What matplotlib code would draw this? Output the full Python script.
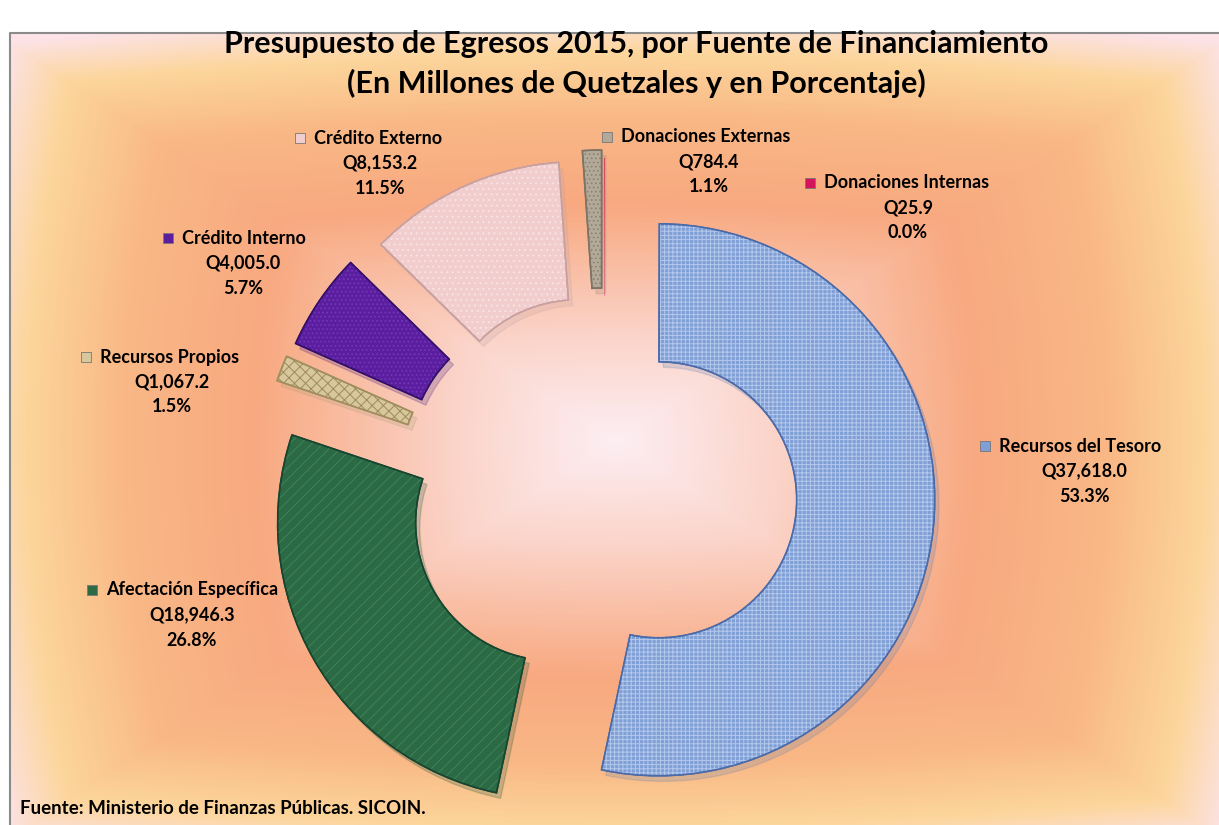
# coding: utf-8
import numpy as np
import matplotlib
matplotlib.use('Agg')
import matplotlib.pyplot as plt
from matplotlib.colors import LinearSegmentedColormap
from matplotlib.patches import Rectangle, Wedge, Shadow

plt.rcParams['font.family'] = ['Lato', 'DejaVu Sans']
plt.rcParams['hatch.linewidth'] = 0.7

# datos (millones de quetzales), en el orden de las agujas del reloj desde arriba
fuentes = ['Donaciones Internas', 'Recursos del Tesoro', 'Afectación Específica',
           'Recursos Propios', 'Crédito Interno', 'Crédito Externo', 'Donaciones Externas']
montos = [25.9, 37618.0, 18946.3, 1067.2, 4005.0, 8153.2, 784.4]
colores = ['#d4145a', '#7f9fd6', '#2c6a45', '#d8c79b', '#5a1e9e', '#f1cdcd', '#b3a999']
bordes = ['#d4145a', '#4a6aa8', '#174530', '#a08e5e', '#33106a', '#c9a0a0', '#7d7365']
# textura aproximada de cada porcion
texturas = ['', '++++', '///', 'xxx', '....', '...', '....']
color_textura = ['#d4145a', '#b4c8ec', '#3d8459', '#9c8b5e', '#7437bd', '#f9e4e4', '#8c8272']

# separacion de cada porcion (px)
separacion = [60, 55, 58, 70, 68, 62, 68]

# posicion de las etiquetas: x del cuadrito, y de la primera linea, x centro de los valores
etiquetas_pos = [(810, 183, 908), (985, 446, 1084), (92, 590, 192), (86, 357, 172),
                 (168, 238, 243), (300, 138, 380), (607, 137, 709)]

W, H = 1219, 825
fig = plt.figure(figsize=(W / 100, H / 100), dpi=100)
ax = fig.add_axes([0, 0, 1, 1])

# fondo degradado rectangular
yy, xx = np.mgrid[0:H, 0:W]
dx = np.abs(xx - 615) / 610.0
dy = np.abs(yy - 440) / 400.0
d = np.clip(np.maximum(dx, dy) * 0.75 + np.sqrt(dx ** 2 + dy ** 2) / 1.41 * 0.25, 0, 1)
cmap = LinearSegmentedColormap.from_list('fondo', [
    (0.0, '#fdeef3'), (0.25, '#fbd3c8'), (0.55, '#f8a980'), (0.75, '#f9b886'),
    (0.9, '#fcd69c'), (1.0, '#fde3e8')])
ax.imshow(d, cmap=cmap, extent=(0, W, H, 0), origin='upper', aspect='auto',
          vmin=0, vmax=1, zorder=0)

# grafico de dona
wedges, _ = ax.pie(montos, colors=colores, explode=separacion, center=(604, 494),
                   radius=276, startangle=-90, counterclock=True,
                   wedgeprops=dict(width=138, linewidth=1.0),
                   shadow={'ox': 3, 'oy': 4, 'alpha': 0.22, 'shade': 0.2})
# la sombra de la porcion casi nula no se ve en el original
sombras = [p for p in ax.patches if isinstance(p, Shadow)]
sombras[0].set_visible(False)

for w, b, t, tc in zip(wedges, bordes, texturas, color_textura):
    w.set_edgecolor(b)
    w.set_zorder(3)
    if t:
        ax.add_patch(Wedge(w.center, w.r, w.theta1, w.theta2, width=w.width,
                           facecolor='none', edgecolor=tc, hatch=t, linewidth=0,
                           zorder=3.5))
        ax.add_patch(Wedge(w.center, w.r, w.theta1, w.theta2, width=w.width,
                           facecolor='none', edgecolor=b, linewidth=1.2, zorder=3.6))
wedges[0].set_linewidth(0)

total = sum(montos)
for nombre, v, col, (mx, my, vx) in zip(fuentes, montos, colores, etiquetas_pos):
    ax.plot(mx, my, marker='s', markersize=7, color=col,
            markeredgecolor='#777777', markeredgewidth=0.6, zorder=5)
    ax.text(mx + 14, my, nombre, fontsize=13, fontweight='bold',
            ha='left', va='center', zorder=5)
    ax.text(vx, my + 25, 'Q{:,.1f}'.format(v), fontsize=13, fontweight='bold',
            ha='center', va='center', zorder=5)
    ax.text(vx, my + 50, '{:.1f}%'.format(v / total * 100), fontsize=13,
            fontweight='bold', ha='center', va='center', zorder=5)

ax.text(636, 53, 'Presupuesto de Egresos 2015, por Fuente de Financiamiento',
        fontsize=22, fontweight='bold', ha='center', va='baseline', zorder=8)
ax.text(636, 93, '(En Millones de Quetzales y en Porcentaje)',
        fontsize=22, fontweight='bold', ha='center', va='baseline', zorder=8)
ax.text(20, 808, 'Fuente: Ministerio de Finanzas Públicas. SICOIN.',
        fontsize=13.5, fontweight='bold', ha='left', va='center')

# tapa blanca superior y marco
ax.add_patch(Rectangle((0, 0), W, 33, facecolor='white', edgecolor='none', zorder=6))
ax.add_patch(Rectangle((0, 0), 10, H, facecolor='white', edgecolor='none', zorder=6))
ax.plot([10, 10, W], [H, 33, 33], color='#8a8a8a', linewidth=1.5, zorder=7)

ax.set_xlim(0, W)
ax.set_ylim(H, 0)
ax.set_aspect('auto')
ax.axis('off')

plt.savefig('out.png', dpi=100)
